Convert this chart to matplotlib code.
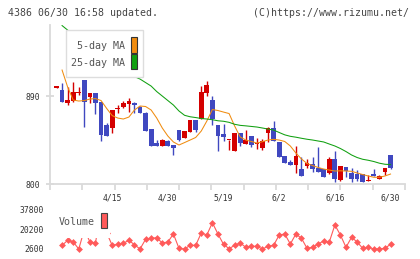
import numpy as np
import matplotlib.pyplot as plt
from matplotlib.patches import Rectangle

# OHLC de cada pregao (4386)
opens  = [899, 896.4, 883.4, 884.8, 893.5, 906.6, 889, 893.7, 884, 860.6,
          857.3, 877, 878.7, 881.8, 883.4, 879.3, 872.6, 856.5, 842, 839.2,
          844.3, 840.1, 855.5, 847.6, 853.8, 865.7, 866.5, 893.7, 886.2, 860.6,
          851.4, 845.3, 834.4, 852, 841.2, 849.4, 841, 836.8, 852.1, 857.3,
          843.6, 829, 822.8, 819.4, 815.6, 818.7, 820.8, 817, 816, 811.9,
          825.9, 804.4, 817.7, 811.9, 810.5, 810.5, 803, 810.5, 805.4, 812.6,
          830]
highs  = [899.5, 904, 899.8, 904.9, 899.8, 906.6, 893.7, 893.7, 884, 862.4,
          876, 881, 885.4, 888, 884.2, 880, 873.6, 856.5, 845.3, 846.3,
          845.3, 840.1, 855.5, 854.5, 865.7, 865.7, 900.5, 905.9, 890.3, 860.6,
          861.7, 845.8, 853, 852, 855.5, 849.4, 847, 846.3, 859, 864.7,
          843.6, 829, 824.8, 839, 828.2, 825.9, 827.6, 837.8, 816, 827.6,
          834.2, 818.7, 817.7, 817, 814.6, 810.5, 809.5, 815.6, 809.5, 817,
          830]
lows   = [899, 884.5, 881, 884, 891, 858.9, 882.8, 871.6, 844.6, 849.7,
          852.8, 873.2, 878, 874.3, 873.2, 872.6, 854.8, 839.2, 839.5, 839.2,
          839.5, 829.8, 844, 847.6, 853.8, 853.8, 866.5, 890.3, 860.6, 834.4,
          844.3, 835, 834.4, 839, 841.2, 837.8, 835.8, 835, 843, 844.6,
          827.6, 822, 819.7, 811.9, 808.5, 816.4, 812.9, 812.3, 807.2, 810.5,
          802.7, 803.4, 807.8, 802.7, 803.7, 802.7, 803, 808.5, 805.4, 809.5,
          815.6]
closes = [899.5, 884.5, 886.2, 894.7, 894.7, 884.5, 893.7, 882.8, 850.4, 849.7,
          876, 878.3, 883.4, 884.9, 880.8, 872.6, 854.8, 839.2, 839.5, 845.3,
          839.5, 837.4, 845.3, 854.5, 865.7, 855.5, 894.4, 901.5, 866.5, 849.7,
          848.7, 845.8, 852.8, 841.9, 845.3, 839.9, 841.4, 844.3, 857.9, 844.6,
          828.2, 822, 819.7, 829, 808.5, 821.5, 816, 812.3, 807.2, 825.9,
          805.7, 818.7, 813.6, 805.7, 805.4, 802.7, 803.4, 808.5, 808.5, 817,
          817]

ma5 = [np.nan, 916.9, 899.5, 886.2, 885.2, 885.7, 887.2, 887.7, 885.7, 877.7,
       870.3, 867.8, 866.8, 868.8, 876, 880.1, 879.6, 876, 867.8, 857.6,
       849.4, 843.3, 840.2, 842.7, 845.3, 847.9, 854.5, 864.7, 876.5, 875.5,
       873.9, 872.4, 859.6, 848.4, 845.3, 843.8, 842.2, 843.6, 845.3, 846,
       845.3, 843.8, 839.2, 832, 825.9, 821.3, 819.2, 817.2, 815.6, 814.6,
       813.6, 813.8, 813.6, 813.3, 811.6, 810, 808.5, 807.2, 807.2, 808.5,
       810.5]
ma25 = [np.nan, 962.4, 957.8, 952.7, 948.6, 944.5, 940.4, 936.3, 932.2, 928.1,
        924, 919.9, 916.9, 913.8, 910.2, 907.7, 904.1, 900.5, 894.9, 890.3,
        885.7, 881.1, 875, 870.6, 869.1, 868.3, 867.3, 866.8, 866.1, 865,
        864.5, 863.4, 861.4, 860.3, 859.8, 859.2, 858.6, 857.6, 856.5, 855.5,
        853, 850.6, 849.1, 848.2, 847.1, 846.1, 845.3, 844.3, 843.3, 841.2,
        839.2, 836.6, 833.5, 830, 827.4, 825.6, 824.6, 823.3, 821.6, 820.5,
        820.2]

volume = [np.nan, 5850, 10290, 8810, 2600, 20000, 8810, 7920, 37800, 17050,
          5850, 6770, 7650, 10290, 6400, 2600, 11200, 12090, 12620, 7920,
          8810, 15900, 3220, 2600, 5850, 5850, 16790, 15010, 25920, 15900,
          6770, 2870, 5850, 7920, 4110, 4990, 4990, 2600, 4990, 5850,
          15010, 15900, 7030, 15900, 12090, 3220, 4110, 7030, 9690, 8810,
          23880, 15010, 4110, 12970, 8810, 3220, 4110, 2600, 2600, 3220,
          6770]

date_pos = [10, 20, 30, 40, 50, 60]
date_labels = ['4/15', '4/30', '5/19', '6/2', '6/16', '6/30']
vol_ticks = [2600, 20200, 37800]

RED = '#d40000'
BLUE = '#4048c0'
AXC = '#dadada'
MONO = 'DejaVu Sans Mono'
W, H = 420, 259

def fx(x):
    return x / W

def fy(y):
    return 1 - y / H

fig = plt.figure(figsize=(W / 100, H / 100), dpi=100)
ax = fig.add_axes([fx(50), fy(184.3), (405 - 50) / W, (184.3 - 25) / H])
axv = fig.add_axes([fx(50), fy(249), (405 - 50) / W, (249 - 209.3) / H])

# candles
o = np.array(opens)
c = np.array(closes)
x = np.arange(len(o))
cores = np.where(c >= o, RED, BLUE)
ax.vlines(x, lows, highs, colors=cores, lw=1.0, zorder=2)
ax.bar(x, np.maximum(np.abs(c - o), 1.2), bottom=np.minimum(o, c),
       width=0.85, color=cores, linewidth=0, zorder=3)

ax.plot(x, ma5, color='#f08c10', lw=0.75, zorder=4)
ax.plot(x, ma25, color='#10a010', lw=0.75, zorder=4)

ax.set_xlim(-1.17, 62.6)
ax.set_ylim(800, 963)
for s in ['top', 'right']:
    ax.spines[s].set_visible(False)
for s in ['left', 'bottom']:
    ax.spines[s].set_color(AXC)
    ax.spines[s].set_linewidth(1.3)
ax.set_yticks([800, 890])
ax.set_yticklabels(['800', '890'], family=MONO, fontsize=5.8, color='#333')
ax.tick_params(axis='y', direction='inout', length=5.8, width=1.3, color=AXC, pad=4.1)
ax.set_xticks(date_pos)
ax.set_xticklabels(date_labels, family=MONO, fontsize=5.8, color='#333')
ax.set_xticks(np.linspace(-1.17, 62.6, 12), minor=True)
ax.tick_params(axis='x', which='major', length=0, pad=6.8)
ax.tick_params(axis='x', which='minor', direction='out', length=4.3, width=1.3, color=AXC)

# volume
axv.plot(x, volume, color='#ff5a5a', lw=0.8, marker='D', markersize=3.5,
         markeredgewidth=0, clip_on=False)
axv.set_xlim(-1.17, 62.6)
axv.set_ylim(2600, 37800)
for s in axv.spines.values():
    s.set_visible(False)
axv.set_xticks([])
axv.set_yticks(vol_ticks)
axv.set_yticklabels([str(v) for v in vol_ticks], family=MONO, fontsize=5.8, color='#333')
axv.tick_params(axis='y', length=0, pad=4.1)

# legenda MA
fig.add_artist(Rectangle((fx(66), fy(77.3)), (143.3 - 66) / W, (77.3 - 30) / H,
                         facecolor='white', edgecolor='#dddddd', lw=1, zorder=5))
fig.add_artist(Rectangle((fx(131), fy(52.7)), 6.3 / W, 15.4 / H,
                         facecolor='#f08c10', edgecolor='#333', lw=0.8, zorder=6))
fig.add_artist(Rectangle((fx(131), fy(69.3)), 6.3 / W, 15 / H,
                         facecolor='#10a010', edgecolor='#333', lw=0.8, zorder=6))
fig.text(fx(125), fy(46), '5-day MA', ha='right', va='center',
         family=MONO, fontsize=7.2, color='#555', zorder=6)
fig.text(fx(125), fy(63.3), '25-day MA', ha='right', va='center',
         family=MONO, fontsize=7.2, color='#555', zorder=6)

# legenda volume
fig.add_artist(Rectangle((fx(55), fy(238)), 55 / W, 33 / H,
                         facecolor='white', edgecolor='none', zorder=5))
fig.add_artist(Rectangle((fx(101), fy(228.3)), 6.3 / W, 15 / H,
                         facecolor='#ff5a5a', edgecolor='#444', lw=0.8, zorder=6))
fig.text(fx(58.3), fy(222.3), 'Volume', ha='left', va='center',
         family=MONO, fontsize=7.2, color='#555', zorder=6)

fig.text(fx(8.3), fy(12.5), '4386 06/30 16:58 updated.', va='center',
         family=MONO, fontsize=7.1, color='#444')
fig.text(fx(409.3), fy(12.5), '(C)https://www.rizumu.net/', ha='right', va='center',
         family=MONO, fontsize=7.1, color='#444')

fig.savefig('out.png', dpi=100)
